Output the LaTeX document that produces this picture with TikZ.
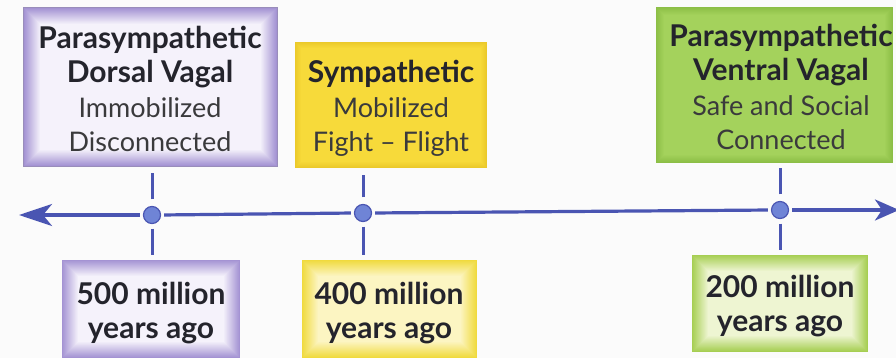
\documentclass[tikz,border=0pt]{standalone}
\usepackage{fontspec}
\setmainfont{Lato}
\usetikzlibrary{arrows.meta,backgrounds}

\definecolor{lineblue}{HTML}{4A55B2}
\definecolor{dotfill}{HTML}{6F84D6}
\definecolor{inktitle}{HTML}{24242C}
\definecolor{inkbody}{HTML}{3A3A3C}
% panel colours: edge tone and centre tone
\definecolor{purpEdge}{HTML}{A493D3}
\definecolor{purpMid}{HTML}{F5F2FB}
\definecolor{yelEdge}{HTML}{EBC92A}
\definecolor{yelMid}{HTML}{F7DA3A}
\definecolor{grnEdge}{HTML}{8CBE46}
\definecolor{grnMid}{HTML}{A4D25C}
\definecolor{yelEdgeL}{HTML}{F0DA3E}
\definecolor{yelMidL}{HTML}{FCF5C2}
\definecolor{grnEdgeL}{HTML}{A6CE52}
\definecolor{grnMidL}{HTML}{EEF5D2}

\newcommand\titlesize{\fontsize{30}{34}\selectfont}
\newcommand\bodysize{\fontsize{27}{34}\selectfont}

\tikzset{
  panel/.style 2 args={minimum width=#1, minimum height=#2, inner sep=0pt, draw=none},
  titletext/.style={font=\bodysize, text=inktitle, align=center, inner sep=0pt},
  agetext/.style={font=\titlesize\bfseries, text=inktitle, align=center, inner sep=0pt},
  dot/.style={circle, minimum size=17pt, inner sep=0pt, fill=dotfill, draw=lineblue, line width=1.2pt},
  tick/.style={draw=lineblue, line width=3pt},
  axis/.style={draw=lineblue, line width=3.2pt},
}

% soft rectangular vignette behind a panel node: #1 node, #2 edge colour, #3 centre colour, #4 band width
\newcommand\softpanel[4]{%
  \begin{scope}[on background layer]
    \foreach \i in {0,...,#4}{%
      \pgfmathtruncatemacro\pct{100-100*\i/#4}%
      \fill[#2!\pct!#3] ([shift={(\i,\i)}]#1.north west) rectangle ([shift={(-\i,-\i)}]#1.south east);
    }
  \end{scope}}

\begin{document}
\begin{tikzpicture}[x=1pt,y=-1pt]
  \useasboundingbox (0,0) rectangle (896,358);
  \begin{scope}[on background layer]
    \fill[white!97!gray] (0,0) rectangle (896,358);
  \end{scope}

  % upper panels
  \node[panel={253}{158}] (topA) at (150.5,87) {};
  \node[panel={192}{126}] (topB) at (391,105) {};
  \node[panel={237}{156}] (topC) at (774.5,85) {};
  \softpanel{topA}{purpEdge}{purpMid}{16}
  \softpanel{topB}{yelEdge}{yelMid}{6}
  \softpanel{topC}{grnEdge}{grnMid}{8}
  \draw[purpEdge!70!gray, line width=0.8pt] (topA.north west) rectangle (topA.south east);

  \node[titletext] (labA) at (150,89)
    {{\titlesize\bfseries Parasympathetic}\\{\titlesize\bfseries Dorsal Vagal}\\[1pt]{\color{inkbody}Immobilized}\\{\color{inkbody}Disconnected}};
  \node[titletext] (labB) at (391,108)
    {{\titlesize\bfseries Sympathetic}\\[1pt]{\color{inkbody}Mobilized}\\{\color{inkbody}Fight -- Flight}};
  \node[titletext] (labC) at (781,87)
    {{\titlesize\bfseries Parasympathetic}\\{\titlesize\bfseries Ventral Vagal}\\[1pt]{\color{inkbody}Safe and Social}\\{\color{inkbody}Connected}};

  % lower panels
  \node[panel={178}{98}] (botA) at (151,309) {};
  \node[panel={175}{98}] (botB) at (389.5,309) {};
  \node[panel={176}{97}] (botC) at (780,303.5) {};
  \softpanel{botA}{purpEdge}{purpMid}{16}
  \softpanel{botB}{yelEdgeL}{yelMidL}{16}
  \softpanel{botC}{grnEdgeL}{grnMidL}{16}

  \node[agetext] (ageA) at (151,313) {500 million\\years ago};
  \node[agetext] (ageB) at (389,313) {400 million\\years ago};
  \node[agetext] (ageC) at (780,306.5) {200 million\\years ago};

  % time axis
  \node[dot] (dA) at (152,215) {};
  \node[dot] (dB) at (363,213) {};
  \node[dot] (dC) at (780,210) {};
  \coordinate (endL) at (19,215);
  \coordinate (endR) at (899,210);

  \draw[axis, shorten <=3pt, -{Stealth[length=33pt,width=22pt,inset=9pt]}] (dA.west) -- (endL);
  \draw[axis, shorten <=3pt, shorten >=3pt] (dA.east) -- (dB.west);
  \draw[axis, shorten <=3pt, shorten >=3pt] (dB.east) -- (dC.west);
  \draw[axis, shorten <=3pt, -{Stealth[length=24pt,width=21pt,inset=7pt]}] (dC.east) -- (endR);

  % ticks linking panels to the axis
  \draw[tick, shorten <=6.5pt, shorten >=7pt] (dA.north) -- (dA |- topA.south);
  \draw[tick, shorten <=4.5pt, shorten >=5pt] (dA.south) -- (dA |- botA.north);
  \draw[tick, shorten <=6.5pt, shorten >=7pt] (dB.north) -- (dB |- topB.south);
  \draw[tick, shorten <=4.5pt, shorten >=5pt] (dB.south) -- (dB |- botB.north);
  \draw[tick, shorten <=6.5pt, shorten >=5pt] (dC.north) -- (dC |- topC.south);
  \draw[tick, shorten <=4.5pt, shorten >=5pt] (dC.south) -- (dC |- botC.north);
\end{tikzpicture}
\end{document}
